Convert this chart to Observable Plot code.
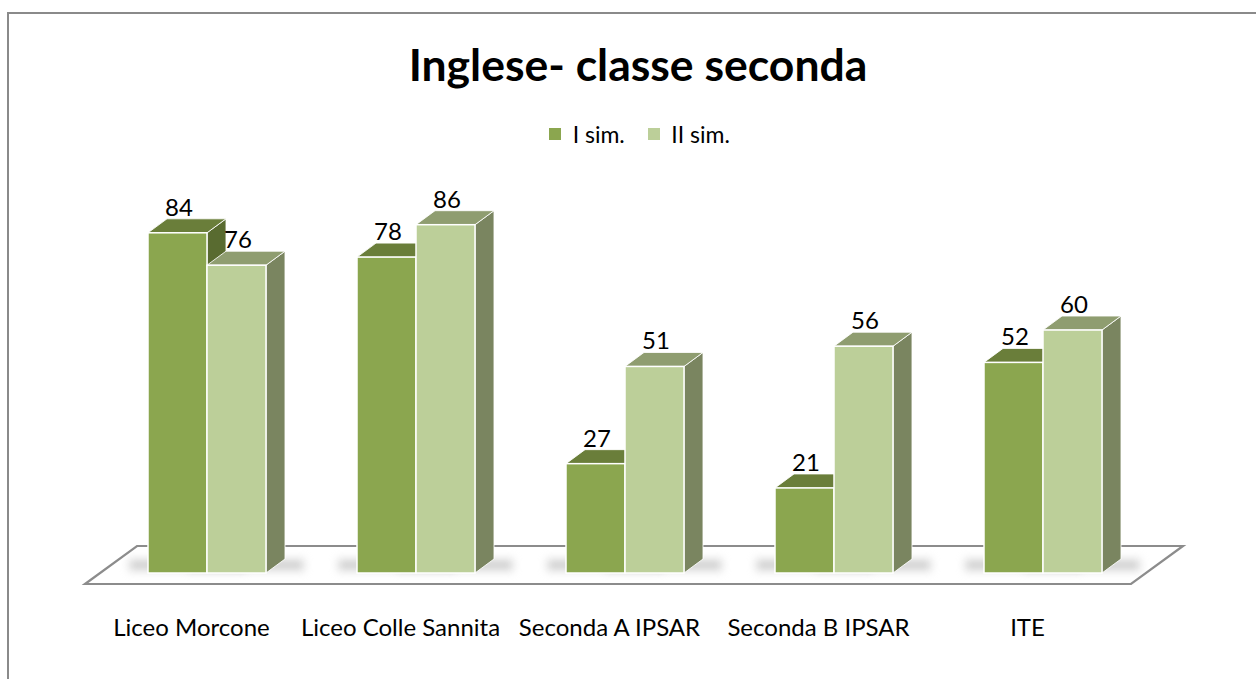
<!DOCTYPE html>
<html><head><meta charset="utf-8">
<script src="https://cdn.jsdelivr.net/npm/d3@7"></script>
<script src="https://cdn.jsdelivr.net/npm/@observablehq/plot@0.6"></script>
<style>
html,body{margin:0;padding:0;background:#fff;overflow:hidden;}
#wrap{position:relative;width:1256px;height:679px;overflow:hidden;}
#chart{position:absolute;left:0;top:0;}
#frame{position:absolute;left:7px;top:12px;width:1300px;height:700px;border-left:2px solid #8a8a8a;border-top:2px solid #8a8a8a;z-index:3;pointer-events:none;}
#title{position:absolute;left:10px;width:1256px;top:37px;text-align:center;font-family:Lato;font-weight:bold;font-size:44.5px;line-height:1.2;color:#000;z-index:2;}
#legend{position:absolute;top:117px;left:23px;width:1256px;display:flex;justify-content:center;z-index:2;}
</style></head>
<body><div id="wrap"><div id="chart"></div><div id="title">Inglese- classe seconda</div><div id="legend"></div><div id="frame"></div></div>
<script>
// ---- data ----
const categories = ["Liceo Morcone", "Liceo Colle Sannita", "Seconda A IPSAR", "Seconda B IPSAR", "ITE"];
const seriesNames = ["I sim.", "II sim."];
const valuesI = [84, 78, 27, 21, 52];
const valuesII = [76, 86, 51, 56, 60];

// ---- styles ----
const frontColors = ["#8ba64f", "#bccf99"];
const topColors = ["#6a7e3a", "#8f9d70"];
const sideColors = ["#596b30", "#7a8560"];
const DX = 19, DY = -14; // 3D depth offset (px)

const table = [];
categories.forEach((c, i) => {
  table.push({category: c, series: seriesNames[0], value: valuesI[i]});
  table.push({category: c, series: seriesNames[1], value: valuesII[i]});
});

const NS = "http://www.w3.org/2000/svg";
function poly(points, fill, stroke) {
  const p = document.createElementNS(NS, "polygon");
  p.setAttribute("points", points.map(q => q.join(",")).join(" "));
  p.setAttribute("fill", fill);
  if (stroke) { p.setAttribute("stroke", stroke); p.setAttribute("stroke-width", "1"); p.setAttribute("stroke-linejoin", "round"); }
  return p;
}

function bars3d(index, scales, values, dimensions, context, next) {
  const g = next(index, scales, values, dimensions, context);
  const rects = Array.from(g.querySelectorAll("rect"));
  const first = g.firstChild;
  rects.forEach((r, k) => {
    const d = table[index[k]];
    const s = seriesNames.indexOf(d.series);
    const x = +r.getAttribute("x"), y = +r.getAttribute("y");
    const w = +r.getAttribute("width"), h = +r.getAttribute("height");
    // soft shadow on the floor behind the bar
    const sh = document.createElementNS(NS, "rect");
    sh.setAttribute("x", x - 20); sh.setAttribute("y", y + h + DY - 1);
    sh.setAttribute("width", w + DX + 40); sh.setAttribute("height", -DY);
    sh.setAttribute("fill", "#000"); sh.setAttribute("opacity", "0.22");
    sh.setAttribute("filter", "url(#shblur)");
    g.insertBefore(sh, first);
    const side = poly([[x + w, y], [x + w + DX, y + DY], [x + w + DX, y + h + DY], [x + w, y + h]], sideColors[s], "rgba(255,255,255,0.85)");
    const top = poly([[x, y], [x + DX, y + DY], [x + w + DX, y + DY], [x + w, y]], topColors[s], "rgba(255,255,255,0.85)");
    g.insertBefore(side, r);
    g.insertBefore(top, r);
  });
  return g;
}

const W = 1256, H = 679;
const plot = Plot.plot({
  width: W, height: H,
  marginTop: 168, marginBottom: 106, marginLeft: 56, marginRight: 63,
  style: {background: "transparent", overflow: "visible"},
  fx: {domain: categories, paddingInner: 0.436, paddingOuter: 0.436, axis: null},
  x: {domain: seriesNames, padding: 0, axis: null},
  y: {domain: [0, 100], axis: null},
  color: {domain: seriesNames, range: frontColors},
  marks: [
    Plot.barY(table, {fx: "category", x: "series", y: "value", fill: "series", stroke: "white", strokeWidth: 1.5, render: bars3d}),
    Plot.text(table, {fx: "category", x: "series", y: "value", text: d => String(d.value), lineAnchor: "bottom", dy: -17.5, dx: 1, fontSize: 24, fontFamily: "Lato", fill: "#000"}),
    Plot.text(categories, {fx: d => d, text: d => d, frameAnchor: "bottom", lineAnchor: "bottom", dy: 62, dx: -16, fontSize: 24, fontFamily: "Lato", fill: "#000"})
  ]
});

// blur filter for floor shadows
const defs = document.createElementNS(NS, "defs");
defs.innerHTML = '<filter id="shblur" x="-50%" y="-200%" width="200%" height="500%"><feGaussianBlur stdDeviation="4"/></filter>';
plot.insertBefore(defs, plot.firstChild);

// floor (derived from scales)
const y0 = plot.scale("y").apply(0);
const fr = plot.scale("fx").range;
const floor = poly([[fr[0] + 29, y0 + 11], [fr[0] + 81, y0 - 27], [fr[1] - 10, y0 - 27], [fr[1] - 62, y0 + 11]], "#fff", null);
floor.setAttribute("stroke", "#8c8c8c");
floor.setAttribute("stroke-width", "2.2");
const firstG = Array.from(plot.children).find(n => n.tagName.toLowerCase() === "g");
plot.insertBefore(floor, firstG);

document.getElementById("chart").appendChild(plot);

const lg = Plot.legend({
  color: {type: "ordinal", domain: seriesNames, range: frontColors},
  swatchSize: 12,
  className: "lg",
  style: {fontSize: "23px", fontFamily: "Lato", color: "#000"}
});
document.getElementById("legend").appendChild(lg);
</script>
</body></html>
